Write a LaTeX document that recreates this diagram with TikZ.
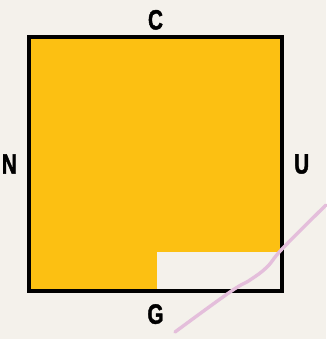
\documentclass[tikz,border=0pt]{standalone}
\usepackage{fontspec}
\newfontfamily\lblfont[FakeStretch=0.74, FakeBold=1.5]{Liberation Sans Bold}
\usetikzlibrary{positioning}
\definecolor{bgcream}{HTML}{F4F1EB}
\definecolor{squareyellow}{HTML}{FCC012}
\definecolor{linepink}{HTML}{E4BEDB}

\begin{document}
\begin{tikzpicture}[x=1pt, y=-1pt,
  letter/.style={inner sep=0pt, font=\lblfont\fontsize{28}{28}\selectfont},
  frame/.style={draw=black, line width=4pt}
]
\fill[bgcream] (0,0) rectangle (326,339);
\useasboundingbox (0,0) rectangle (326,339);

\node[fill=squareyellow, inner sep=0pt, outer sep=0pt,
      minimum width=253pt, minimum height=254pt] (sq) at (155.5,164) {};
\fill[bgcream] (157,252) rectangle (sq.south east);
\draw[frame] (sq.south west) rectangle (sq.north east);

\node[letter, above=7pt of sq]  (c) {C};
\node[letter, below=13pt of sq] (g) {G};
\node[letter, left=12pt of sq]  (n) {N};
\node[letter, right=12pt of sq] (u) {U};

% the pink stroke across the corner
\draw[linepink, line width=3.4pt, line cap=round]
  plot[smooth, tension=0.7] coordinates {(175,332) (230,292) (250,280) (267,267) (283,248) (326,205)};
\end{tikzpicture}
\end{document}
